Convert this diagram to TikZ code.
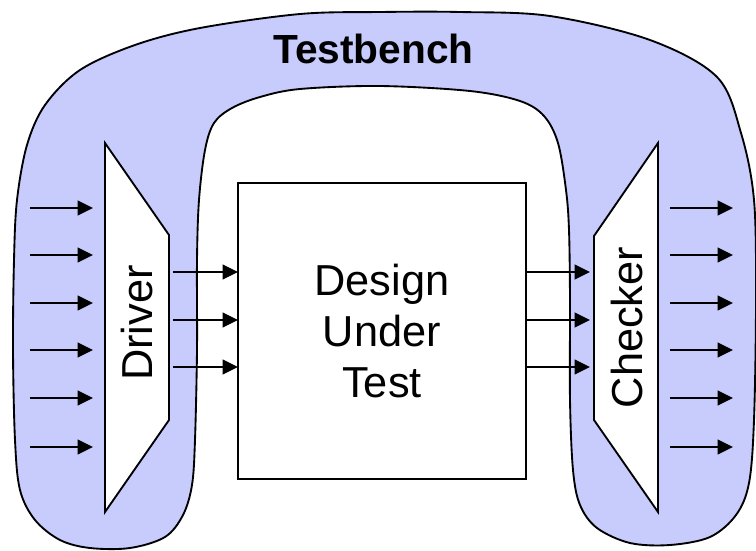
\documentclass[tikz,border=0pt]{standalone}
\usepackage{fontspec}
\setmainfont{Liberation Sans}
\usetikzlibrary{arrows.meta}
\definecolor{benchfill}{RGB}{199,204,253}
\begin{document}
\begin{tikzpicture}[x=0.75pt,y=-0.75pt,
  outline/.style={draw=black,line width=1.4pt,line join=miter},
  benchshape/.style={outline,fill=benchfill},
  unitshape/.style={outline,fill=white},
  dutbox/.style={outline,fill=white,rectangle,inner sep=0pt,outer sep=0pt,
    minimum width=216pt,minimum height=222pt,align=center,
    font=\fontsize{32.5pt}{38.6pt}\selectfont},
  unitlabel/.style={rotate=90,inner sep=0pt,font=\fontsize{32.5pt}{39pt}\selectfont},
  titlelabel/.style={inner sep=0pt,font=\fontsize{30.5pt}{36pt}\selectfont\bfseries},
  sig/.style={draw=black,line width=1.4pt,-{Triangle[length=11.5pt,width=11pt]}}]
\useasboundingbox (0,0) rectangle (756,550);

% testbench outline: a horseshoe that wraps driver, DUT and checker
\draw[benchshape] plot[smooth cycle,tension=0.55] coordinates {
  (380,12) (460,12) (550,16) (650,40) (717,77) (741,133) (754,200)
  (756,300) (754,420) (749,483) (736,515) (710,537) (670,545)
  (630,543) (597,528) (580,505) (573,470) (570,400) (570,300)
  (569,230) (566,190) (558,143) (544,116) (520,101) (470,91)
  (380,86) (300,89) (260,97) (232,108) (214,123) (205,150)
  (199,200) (197,260) (197,350) (195,440) (192,485) (183,515)
  (165,537) (130,548) (90,548) (60,540) (35,520) (20,490)
  (15,440) (13,350) (14,260) (17,200) (27,145) (45,105)
  (80,70) (135,45) (200,28) (300,14)};

\node[titlelabel] (title) at (373.5,49) {Testbench};

% driver
\coordinate (drvA) at (105,143);
\coordinate (drvB) at (169,235);
\coordinate (drvC) at (169,420);
\coordinate (drvD) at (105,512);
\draw[unitshape] (drvA) -- (drvB) -- (drvC) -- (drvD) -- cycle;
\node[unitlabel] (drvlabel) at (137.5,323) {Driver};

% checker
\coordinate (chkA) at (658,143);
\coordinate (chkB) at (594,236);
\coordinate (chkC) at (594,420);
\coordinate (chkD) at (658,512);
\draw[unitshape] (chkA) -- (chkB) -- (chkC) -- (chkD) -- cycle;
\node[unitlabel] (chklabel) at (627.5,327.5) {Checker};

% design under test
\node[dutbox] (dut) at (382,331) {Design\\Under\\Test};

% stimulus into the driver, results out of the checker
\foreach \y [count=\i] in {208,255,303,350,398,447} {
  \coordinate (stim\i) at (30,\y);
  \coordinate (drvin\i) at (93,\y);
  \draw[sig] (stim\i) -- (drvin\i);
  \coordinate (chkout\i) at (670,\y);
  \coordinate (res\i) at (733,\y);
  \draw[sig] (chkout\i) -- (res\i);
}

% driver -> DUT -> checker
\foreach \y [count=\i] in {272,320,367} {
  \coordinate (drvout\i) at (173,\y);
  \draw[sig] (drvout\i) -- (dut.west |- drvout\i);
  \coordinate (chkin\i) at (590,\y);
  \draw[sig] (dut.east |- chkin\i) -- (chkin\i);
}
\end{tikzpicture}
\end{document}
